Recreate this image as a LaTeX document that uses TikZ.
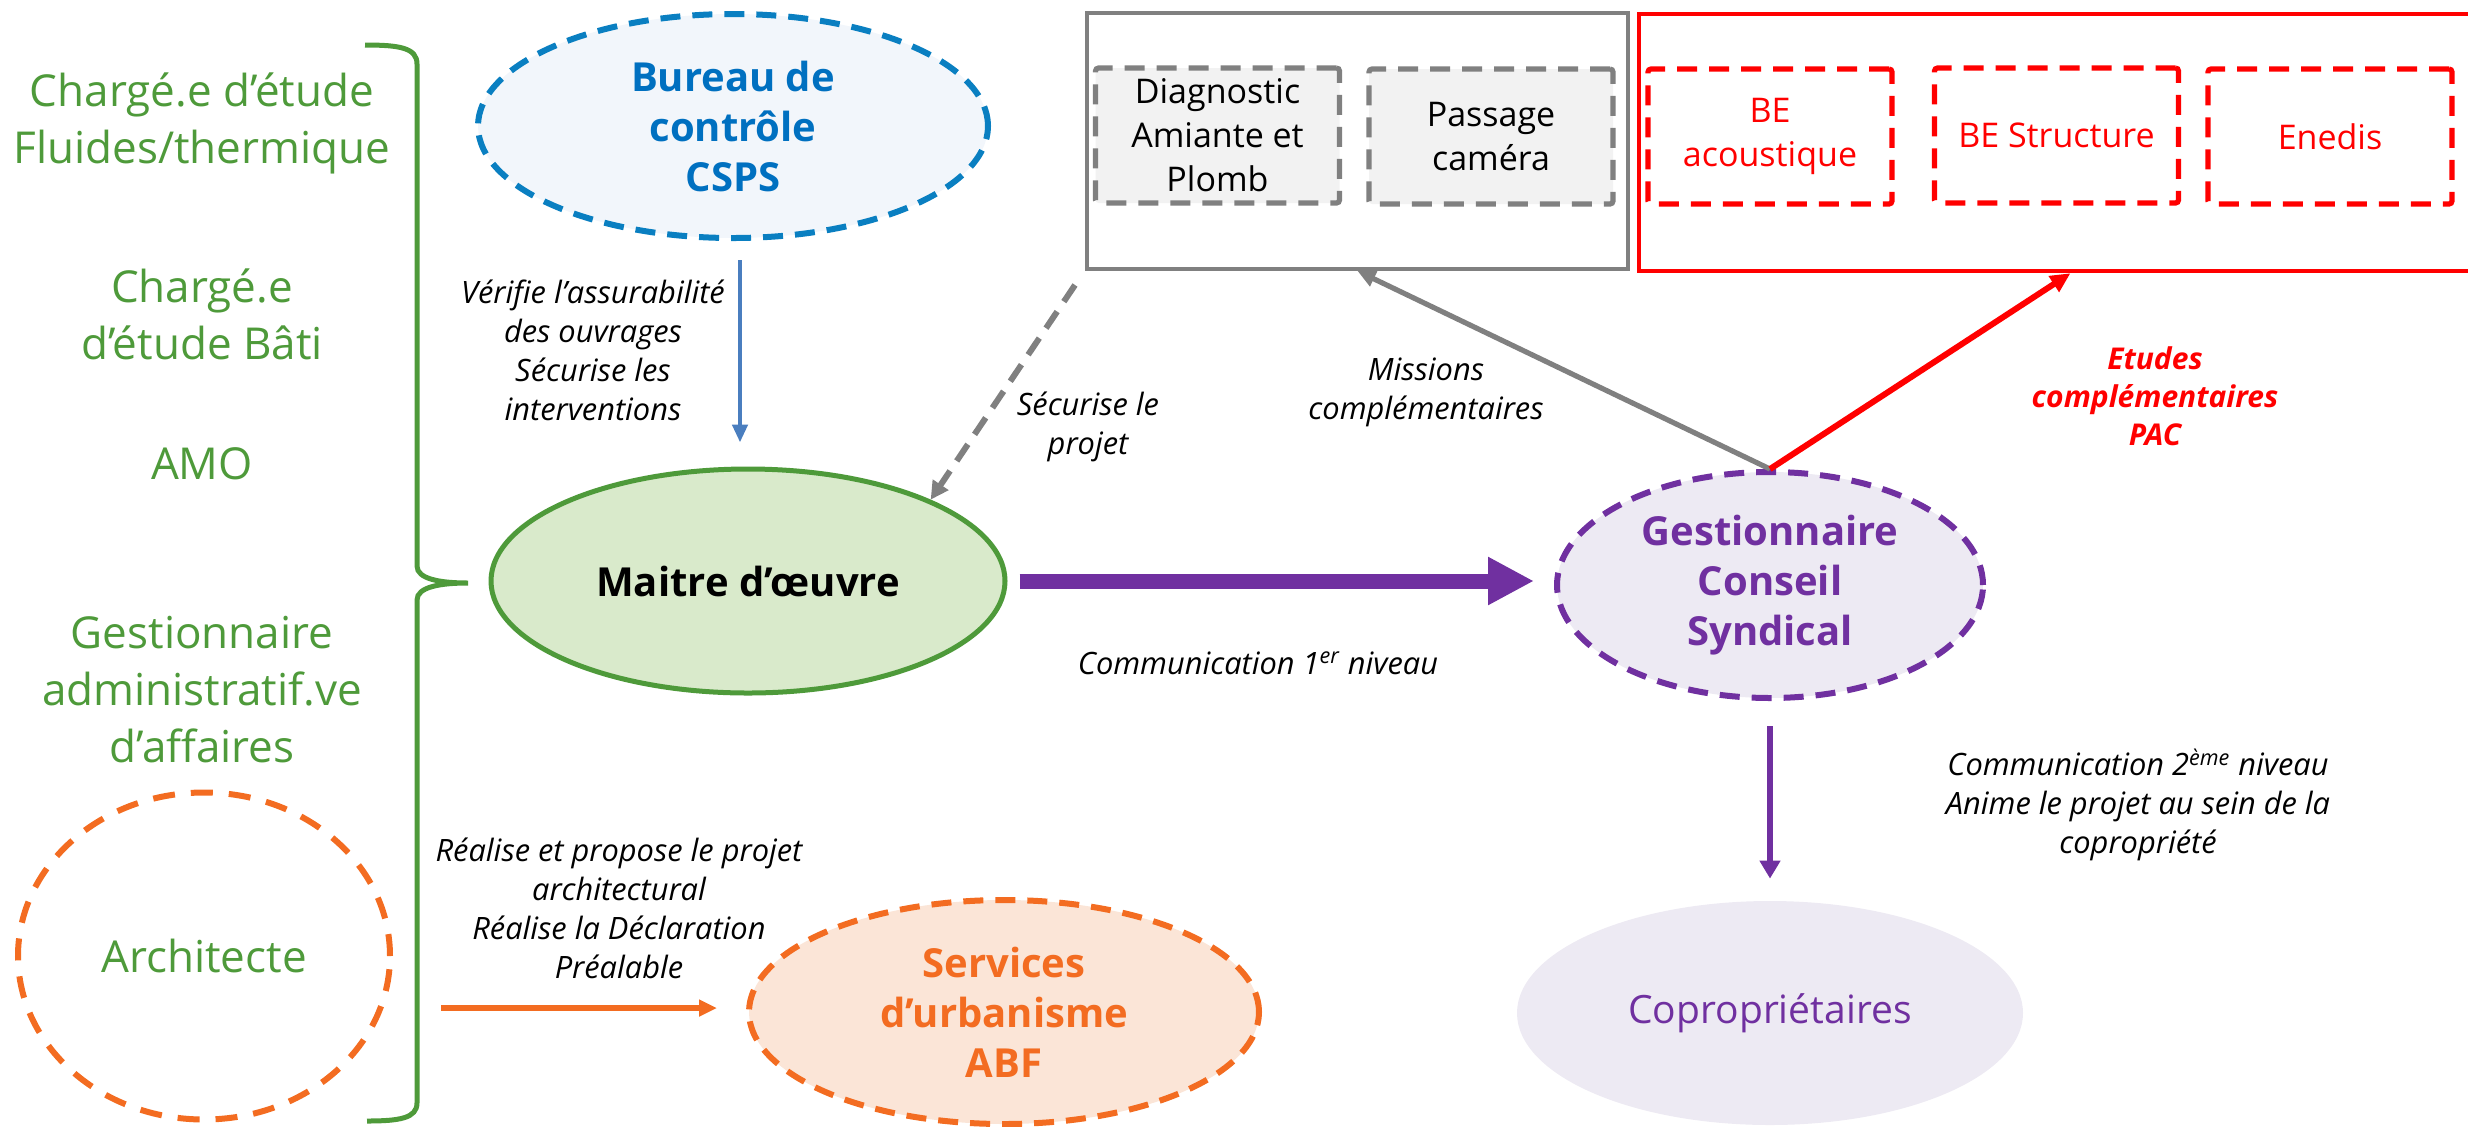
\documentclass[tikz,border=0pt]{standalone}
\usepackage{fontspec}
\setmainfont{Open Sans}
\usepackage{tikz}
\usetikzlibrary{positioning,calc,arrows.meta,shapes.geometric}
\definecolor{Leaf}{HTML}{4E9A3A}
\definecolor{LeafFill}{HTML}{D9EACB}
\definecolor{Sky}{HTML}{0A7FC1}
\definecolor{SkyText}{HTML}{0070C0}
\definecolor{SkyFill}{HTML}{F2F6FB}
\definecolor{Steel}{HTML}{4A7EBF}
\definecolor{Plum}{HTML}{7030A0}
\definecolor{PlumFill}{HTML}{EDEAF3}
\definecolor{Tang}{HTML}{F36C21}
\definecolor{TangFill}{HTML}{FBE5D7}
\definecolor{Slate}{HTML}{808080}
\definecolor{SlateFill}{HTML}{F2F2F2}
\definecolor{Alarm}{HTML}{FF0000}
\newcommand{\fs}[2]{\fontsize{#1}{#2}\selectfont}
\newcommand{\MissionBox}[6]{%
\node[rounded corners=1.5pt, draw=#1, fill=#2, text=#3, line width=2.6pt,
      dash pattern=on 10pt off 6pt, minimum width=122pt, minimum height=67.5pt,
      inner sep=0pt, align=center, font=\fs{17}{22}] (#4) at #5 {#6};
}

\begin{document}
\begin{tikzpicture}[
    x=0.5pt,
    y=-0.5pt,
    every node/.style={inner sep=0pt},
    role/.style={text=Leaf, align=center, font=\fs{22}{28.5}},
    actor/.style={ellipse, inner sep=0pt, align=center, line width=2.5pt, font=\bfseries\fs{20}{25}},
    dashline/.style={dash pattern=on 10pt off 6pt, line width=3pt},
    note/.style={align=center, font=\itshape\fs{15.4}{19.5}}
]

\useasboundingbox (0,0) rectangle (2468,1126);

% Equipe de maitrise d'oeuvre
\node[role] (rFluid) at (202,123) {Chargé.e d’étude\\Fluides/thermique};
\node[role] (rBati) at (202,314) {Chargé.e\\d’étude Bâti};
\node[role] (rAmo) at (202,464) {AMO};
\node[role] (rGest) at (202,690) {Gestionnaire\\administratif.ve\\d’affaires};
\node[actor, draw=Tang, line width=3pt, dash pattern=on 11pt off 8pt, text=Leaf, font=\fs{22}{28},
      minimum width=186pt, minimum height=163.5pt] (arch) at (204,956) {Architecte};

\coordinate (braceTop) at (365,45);
\coordinate (braceTip) at (468,583);
\coordinate (braceBot) at (367,1121);
\draw[Leaf, line width=2.5pt] (braceTop) .. controls (400,45) and (417,48) .. (417,64)
  -- (417,566) .. controls (417,579) and (440,583) .. (braceTip)
  .. controls (440,583) and (417,587) .. (417,600)
  -- (417,1103) .. controls (417,1118) and (400,1121) .. (braceBot);

% Acteurs
\node[actor, draw=Sky, dashline, fill=SkyFill, text=SkyText,
      minimum width=255pt, minimum height=112pt] (bur) at (733,126) {Bureau de\\contrôle\\CSPS};
\node[actor, draw=Leaf, fill=LeafFill, text=black,
      minimum width=257pt, minimum height=112pt] (mo) at (748,581) {Maitre d’œuvre};
\node[actor, draw=Plum, dashline, fill=PlumFill, text=Plum,
      minimum width=213pt, minimum height=113pt] (gcs) at (1770,585) {Gestionnaire\\Conseil\\Syndical};
\node[ellipse, fill=PlumFill, text=Plum, font=\fs{19.5}{24},
      minimum width=253pt, minimum height=112pt] (copro) at (1770,1013) {Copropriétaires};
\node[actor, draw=Tang, dashline, fill=TangFill, text=Tang,
      minimum width=255pt, minimum height=112pt] (svc) at (1004,1012) {Services\\d’urbanisme\\ABF};

% Missions
\node[draw=Slate, line width=2pt, minimum width=270.5pt, minimum height=128pt] (gbox) at (1357.5,141) {};
\node[draw=Alarm, line width=2.2pt, minimum width=419.5pt, minimum height=128.5pt] (rbox) at (2058.5,142.5) {};
\MissionBox{Slate}{SlateFill}{black}{bDiag}{(1217.5,135.5)}{Diagnostic\\Amiante et\\Plomb}
\MissionBox{Slate}{SlateFill}{black}{bCam}{(1491,136.5)}{Passage\\caméra}
\MissionBox{Alarm}{white}{Alarm}{bAcou}{(1770,136.5)}{BE\\acoustique}
\MissionBox{Alarm}{white}{Alarm}{bStruct}{(2056.5,135.5)}{BE Structure}
\MissionBox{Alarm}{white}{Alarm}{bEnedis}{(2330,136.5)}{Enedis}

% Liens
\draw[Steel, line width=2.3pt, -{Triangle[length=9pt,width=7.5pt]}]
  ($(bur.south)+(7,19)$) -- ($(bur.south |- mo.north)+(7,-24)$);
\draw[Slate, dashline, -{Triangle[length=9pt,width=9pt]}]
  ($(gbox.south west)+(-10,14)$) -- (mo.24);
\draw[Plum, line width=7.5pt, -{Triangle[length=23pt,width=22.5pt]}]
  ($(mo.east)+(12,0)$) -- ($(mo.east -| gcs.west)+(-20,0)$);
\draw[Slate, line width=2.6pt, -{Triangle[length=9pt,width=8pt]}] (gcs.north) -- (gbox.south);
\draw[Alarm, line width=3pt, -{Triangle[length=10pt,width=9pt]}] (gcs.north) -- ($(rbox.south)+(12,0)$);
\draw[Plum, line width=3pt, -{Triangle[length=9pt,width=10pt]}]
  ($(gcs.south)+(0,25)$) -- ($(copro.north)+(0,-22)$);
\coordinate (archOut) at (441,1008);
\draw[Tang, line width=3pt, -{Triangle[length=9pt,width=8pt]}]
  (archOut) -- ($(archOut -| svc.west)+(-29,0)$);

% Legendes
\node[note] (lVerif) at (593,350) {Vérifie l’assurabilité\\des ouvrages\\Sécurise les\\interventions};
\node[note] (lSecur) at (1088,427) {Sécurise le\\projet};
\node[note] (lMiss) at (1426,392) {Missions\\complémentaires};
\node[note, text=Alarm, font=\bfseries\itshape\fs{15}{19}] (lPac) at (2155,396) {Etudes\\complémentaires\\PAC};
\node[note] (lComm1) at (1258,663) {Communication 1\textsuperscript{er} niveau};
\node[note] (lComm2) at (2138,805) {Communication 2\textsuperscript{ème} niveau\\Anime le projet au sein de la\\copropriété};
\node[note] (lReal) at (619,908) {Réalise et propose le projet\\architectural\\Réalise la Déclaration\\Préalable};

\end{tikzpicture}
\end{document}
